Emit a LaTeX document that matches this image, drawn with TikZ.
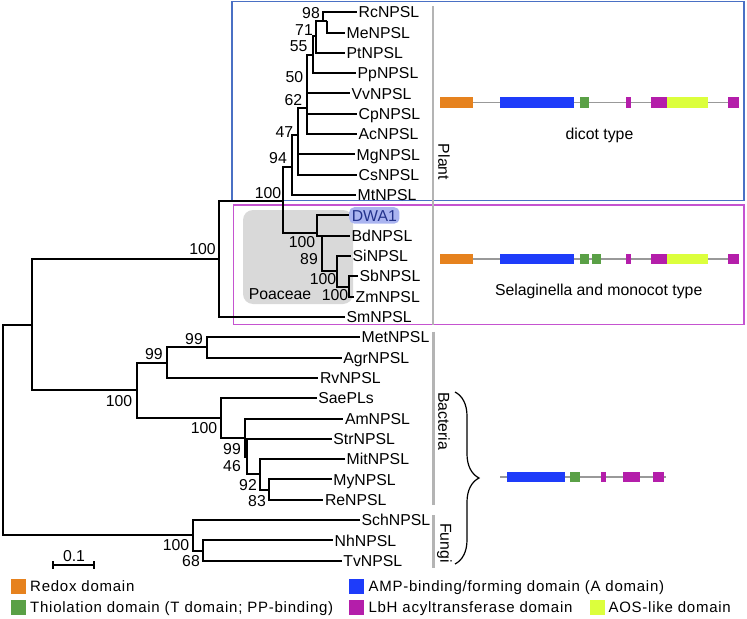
\documentclass[tikz,border=0pt]{standalone}
\usepackage{fontspec}
\setmainfont{Liberation Sans}
\newfontfamily\legfont{Liberation Sans}[LetterSpace=5]
\usetikzlibrary{decorations.pathreplacing}
\definecolor{cRedox}{HTML}{E6821E}
\definecolor{cAmp}{HTML}{1E3CFA}
\definecolor{cThio}{HTML}{5AA046}
\definecolor{cLbh}{HTML}{B41EAA}
\definecolor{cAos}{HTML}{DCFF3C}
\definecolor{cPlantBox}{HTML}{4A70C4}
\definecolor{cMonoBox}{HTML}{C553D0}
\definecolor{cBar}{HTML}{B4B4B4}
\definecolor{cPoa}{HTML}{D9D9D9}
\definecolor{cHi}{HTML}{AAB4F0}
\definecolor{cHiText}{HTML}{23328C}
\definecolor{cLine}{HTML}{999999}
\newcommand\tfont{\fontsize{15.8bp}{18bp}\selectfont}
\newcommand\lfont{\fontsize{15bp}{18bp}\legfont}
\newcommand\leaf[4]{\coordinate (#1) at (#2,#3); \node[leaflab] (#1-t) at ([xshift=1.5bp]#1) {#4};}
\newcommand\dom[4]{\fill[#1] (#2,#4-5.2) rectangle (#3,#4+5.2);}
\begin{document}
\begin{tikzpicture}[x=1bp,y=-1bp,
  br/.style={line width=2bp, black},
  leaflab/.style={anchor=west, inner sep=0pt, font=\tfont, text height=11.3bp, text depth=0pt},
  bs/.style={inner sep=0pt, font=\tfont, text height=11.3bp, text depth=0pt},
  grp/.style={inner sep=0pt, font=\tfont, rotate=-90},
  cbar/.style={cBar, line width=2.6bp},
  sq/.style={minimum size=15.3bp, inner sep=0pt},
  legt/.style={anchor=west, inner sep=0pt, font=\lfont, text height=11bp, text depth=0pt},
  bline/.style={cLine, line width=1.5bp}]
\useasboundingbox (0,0) rectangle (747,619);
% boxes
\draw[cPlantBox, line width=1.4bp] (232,1.5) rectangle (744,200.7);
\draw[cMonoBox, line width=1.4bp] (233.5,205) rectangle (744,324.5);
\fill[cPoa, rounded corners=10bp] (243,210) rectangle (353,304);
% group bars
\draw[cbar] (432.8,6.5) -- (432.8,325);
\draw[cbar] (433.3,331.5) -- (433.3,505);
\draw[cbar] (433.3,515) -- (433.3,568);
\node[grp] (gPlant) at (444,162) {Plant};
\node[grp] (gBact) at (444,421) {Bacteria};
\node[grp] (gFungi) at (444.5,543) {Fungi};
\draw[line width=1.2bp, decorate, decoration={brace, amplitude=24bp}] (455,392) -- (455,564);
% leaves
\leaf{Rc}{357}{12.3}{RcNPSL}
\leaf{Me}{345}{32.6}{MeNPSL}
\leaf{Pt}{345}{52.9}{PtNPSL}
\leaf{Pp}{356}{73.2}{PpNPSL}
\leaf{Vv}{350}{93.5}{VvNPSL}
\leaf{Cp}{357}{113.9}{CpNPSL}
\leaf{Ac}{357}{134.2}{AcNPSL}
\leaf{Mg}{355}{154.5}{MgNPSL}
\leaf{Cs}{357}{174.8}{CsNPSL}
\leaf{Mt}{356}{195.1}{MtNPSL}
\coordinate (DW) at (349,215.4);
\node[anchor=west, fill=cHi, rounded corners=5bp, inner xsep=2.6bp, inner ysep=2.5bp, font=\tfont, text=cHiText, text height=11.3bp, text depth=0pt] (DW-t) at (DW) {DWA1};
\leaf{Bd}{350}{235.7}{BdNPSL}
\leaf{Si}{351}{256}{SiNPSL}
\leaf{Sb}{358}{276.3}{SbNPSL}
\leaf{Zm}{354}{296.6}{ZmNPSL}
\leaf{Sm}{345}{316.9}{SmNPSL}
\leaf{Met}{360}{337.3}{MetNPSL}
\leaf{Agr}{341.7}{357.6}{AgrNPSL}
\leaf{Rv}{318.3}{377.9}{RvNPSL}
\leaf{Sae}{316.7}{398.2}{SaePLs}
\leaf{Am}{343.3}{418.5}{AmNPSL}
\leaf{Str}{331.7}{438.8}{StrNPSL}
\leaf{Mit}{345}{459.1}{MitNPSL}
\leaf{My}{331.7}{479.4}{MyNPSL}
\leaf{Re}{323.3}{499.7}{ReNPSL}
\leaf{Sch}{360}{520}{SchNPSL}
\leaf{Nh}{333}{540.4}{NhNPSL}
\leaf{Tv}{341.7}{560.7}{TvNPSL}
% internal nodes
\coordinate (n98) at (322.7,20.7);
\coordinate (nMe) at (326.7,20.7);
\coordinate (n71) at (316,36);
\coordinate (n55) at (313,55.5);
\coordinate (n50) at (307,108);
\coordinate (n62) at (298,135);
\coordinate (n47) at (292,167);
\coordinate (n94) at (283,201);
\coordinate (nPoa) at (317.3,233.3);
\coordinate (n89) at (321.7,235.7);
\coordinate (n100c) at (337.3,271.3);
\coordinate (nSZ) at (349.3,286.5);
\coordinate (nPlant) at (219,259);
\coordinate (nA) at (32.3,324.5);
\coordinate (nBact) at (136.7,390);
\coordinate (nMAR) at (166.7,362.6);
\coordinate (nMA) at (206.7,347.4);
\coordinate (nSae) at (221,418);
\coordinate (n99) at (245,437.5);
\coordinate (n46) at (246.7,456.6);
\coordinate (nM) at (260,474.4);
\coordinate (nMR) at (269.3,489.6);
\coordinate (nRoot) at (2.7,430);
\coordinate (nF) at (192.7,535.3);
\coordinate (nNT) at (203.3,550.5);
% branches
\draw[br] (n98) -- (nMe);
\foreach \p/\c in {n98/Rc, nMe/Me, n71/n98, n71/Pt, n55/n71, n55/Pp, n50/n55, n50/Vv, n50/Cp, n50/Ac,
  n62/n50, n62/Mg, n62/Cs, n47/n62, n47/Mt, n94/n47, n94/nPoa, nPoa/DW, nPoa/n89, n89/Bd, n89/n100c,
  n100c/Si, n100c/nSZ, nSZ/Sb, nSZ/Zm, nPlant/n94, nPlant/Sm, nA/nPlant, nA/nBact,
  nBact/nMAR, nBact/nSae, nMAR/nMA, nMAR/Rv, nMA/Met, nMA/Agr, nSae/Sae, nSae/n99,
  n99/Am, n99/n46, n46/Str, n46/nM, nM/Mit, nM/nMR, nMR/My, nMR/Re,
  nRoot/nA, nRoot/nF, nF/Sch, nF/nNT, nNT/Nh, nNT/Tv}
  {\draw[br] (\p) |- (\c);}
% bootstrap values
\node[bs] (b1) at (311,12.8) {98};
\node[bs] (b2) at (304,29.5) {71};
\node[bs] (b3) at (298.7,46) {55};
\node[bs] (b4) at (294.3,77) {50};
\node[bs] (b5) at (293.3,100) {62};
\node[bs] (b6) at (284.3,131.7) {47};
\node[bs] (b7) at (278,157.5) {94};
\node[bs] (b8) at (268,192.5) {100};
\node[bs] (b9) at (302,242) {100};
\node[bs] (b10) at (309,259) {89};
\node[bs] (b11) at (323,279) {100};
\node[bs] (b12) at (335,295) {100};
\node[bs] (poa) at (280,294) {Poaceae};
\node[bs] (b13) at (202.5,249) {100};
\node[bs] (b14) at (194,339) {99};
\node[bs] (b15) at (154,354) {99};
\node[bs] (b16) at (119,401) {100};
\node[bs] (b17) at (204,428) {100};
\node[bs] (b18) at (232,449) {99};
\node[bs] (b19) at (232,466) {46};
\node[bs] (b20) at (248,485) {92};
\node[bs] (b21) at (257,501) {83};
\node[bs] (b22) at (176,545) {100};
\node[bs] (b23) at (191,561) {68};
% scale bar
\coordinate (s1) at (53.3,565);
\coordinate (s2) at (94.3,565);
\draw[line width=1.8bp] (s1) -- (s2);
\draw[line width=1.8bp] ([yshift=4bp]s1) -- ([yshift=-4bp]s1);
\draw[line width=1.8bp] ([yshift=4bp]s2) -- ([yshift=-4bp]s2);
\node[bs] (sb) at (74,555.5) {0.1};
% domain diagrams
\draw[bline] (440,102.5) -- (739,102.5);
\dom{cRedox}{440}{473}{102.5}
\dom{cAmp}{500}{574.3}{102.5}
\dom{cThio}{580}{589.3}{102.5}
\dom{cLbh}{626}{631.3}{102.5}
\dom{cLbh}{651}{666.7}{102.5}
\dom{cAos}{666.7}{707.7}{102.5}
\dom{cLbh}{728.3}{739.3}{102.5}
\node[bs] (t1) at (599.5,133.5) {dicot type};
\draw[bline] (440,259.2) -- (739,259.2);
\dom{cRedox}{440}{473}{259.2}
\dom{cAmp}{500}{574.3}{259.2}
\dom{cThio}{580}{589.3}{259.2}
\dom{cThio}{592.3}{600.7}{259.2}
\dom{cLbh}{626}{631.3}{259.2}
\dom{cLbh}{651}{666.7}{259.2}
\dom{cAos}{666.7}{707.7}{259.2}
\dom{cLbh}{728.3}{739.3}{259.2}
\node[bs] (t2) at (598.7,290) {Selaginella and monocot type};
\draw[bline] (500,477) -- (665.7,477);
\dom{cAmp}{506.7}{565}{477}
\dom{cThio}{570}{580}{477}
\dom{cLbh}{600.7}{606}{477}
\dom{cLbh}{622.7}{640}{477}
\dom{cLbh}{653.3}{664.3}{477}
% legend
\node[sq, fill=cRedox] (q1) at (18.3,586.2) {};
\node[legt] (l1) at (30,586.2) {Redox domain};
\node[sq, fill=cThio] (q2) at (18.3,607.2) {};
\node[legt] (l2) at (30,607.2) {Thiolation domain (T domain; PP-binding)};
\node[sq, fill=cAmp] (q3) at (356.7,586.2) {};
\node[legt] (l3) at (368.3,586.2) {AMP-binding/forming domain (A domain)};
\node[sq, fill=cLbh] (q4) at (356.7,607.2) {};
\node[legt] (l4) at (368.3,607.2) {LbH acyltransferase domain};
\node[sq, fill=cAos] (q5) at (597.5,607.2) {};
\node[legt] (l5) at (608.3,607.2) {AOS-like domain};
\end{tikzpicture}
\end{document}
